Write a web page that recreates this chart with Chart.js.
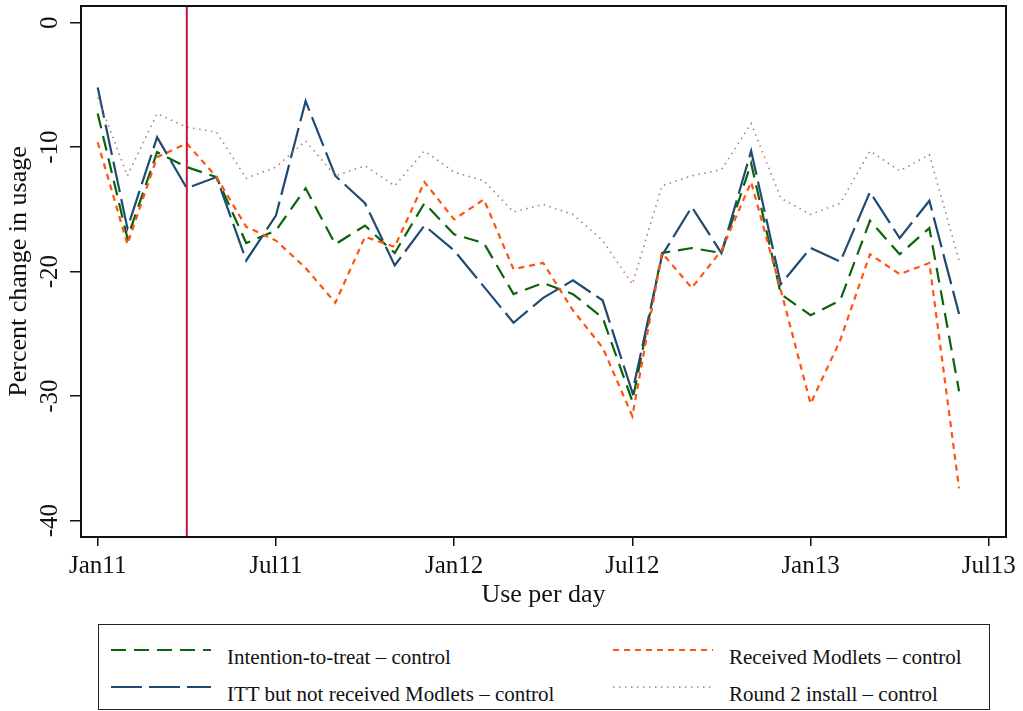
<!DOCTYPE html>
<html>
<head>
<meta charset="utf-8">
<script src="https://cdn.jsdelivr.net/npm/chart.js@4.4.0/dist/chart.umd.min.js"></script>
<style>
  body { margin: 0; background: #fff; width: 1023px; height: 711px; overflow: hidden; position: relative; font-family: "Liberation Serif", serif; }
  #wrap { position: absolute; left: 0; top: 0; width: 1023px; height: 615px; }
  #legend { position: absolute; left: 98px; top: 624px; width: 892px; height: 86px; border: 1.5px solid #222; box-sizing: border-box; }
  .lg-text { position: absolute; font-size: 21px; line-height: 22px; white-space: nowrap; color: #111; }
  .lg-line { position: absolute; }
</style>
</head>
<body>
<div id="wrap"><canvas id="grafico"></canvas></div>
<div id="legend"></div>
<script>
// months since Jan 2011 (0 = Jan11 ... 29 = Jun13)
const meses = Array.from({ length: 30 }, (_, i) => i);
const tickMeses = [0, 6, 12, 18, 24, 30];
const tickLabels = ['Jan11', 'Jul11', 'Jan12', 'Jul12', 'Jan13', 'Jul13'];
const yTicks = [0, -10, -20, -30, -40];
const mesTratamento = 3;

const itt = [-7.3, -17.3, -10.4, -11.6, -12.4, -17.7, -16.7, -13.3, -17.8, -16.3,
  -18.5, -14.5, -17.0, -17.7, -21.8, -20.9, -21.8, -23.7, -30.4, -18.5,
  -18.1, -18.5, -11.3, -21.8, -23.5, -22.3, -15.9, -18.6, -16.5, -29.6];
const ittNaoRecebido = [-5.2, -16.5, -9.2, -13.3, -12.4, -19.1, -15.5, -6.3, -12.3, -14.5,
  -19.5, -16.3, -18.3, -21.2, -24.1, -22.1, -20.7, -22.3, -29.7, -18.7,
  -14.8, -18.5, -10.3, -21.0, -18.1, -19.2, -13.6, -17.3, -14.3, -23.4];
const recebido = [-9.6, -17.8, -10.8, -9.7, -12.4, -16.4, -17.5, -19.7, -22.5, -17.2,
  -18.0, -12.8, -15.8, -14.2, -19.8, -19.3, -23.1, -26.1, -31.6, -18.5,
  -21.3, -18.3, -12.8, -21.5, -30.6, -25.5, -18.6, -20.2, -19.3, -37.4];
const round2 = [-6.0, -12.3, -7.3, -8.4, -8.8, -12.5, -11.6, -9.5, -12.3, -11.5,
  -13.1, -10.3, -12.0, -12.7, -15.2, -14.6, -15.4, -17.5, -21.0, -13.1,
  -12.3, -11.8, -8.1, -14.1, -15.4, -14.5, -10.3, -11.9, -10.6, -19.1];

const series = [
  { label: 'Intention-to-treat \u2013 control', data: itt, color: '#0b630b', dash: [15, 8], width: 2.2, col: 0, row: 0 },
  { label: 'ITT but not received Modlets \u2013 control', data: ittNaoRecebido, color: '#1f4a73', dash: [31, 7], width: 2.2, col: 0, row: 1 },
  { label: 'Received Modlets \u2013 control', data: recebido, color: '#ff5310', dash: [6, 5], width: 2.2, col: 1, row: 0 },
  { label: 'Round 2 install \u2013 control', data: round2, color: '#b87882', dash: [1.5, 4.5], width: 1.6, col: 1, row: 1 }
];

// plot frame + treatment line
const moldura = {
  id: 'moldura',
  afterDatasetsDraw(chart) {
    const { ctx, chartArea: a, scales } = chart;
    const x = scales.x.getPixelForValue(mesTratamento);
    ctx.save();
    ctx.strokeStyle = '#c8143c';
    ctx.lineWidth = 2;
    ctx.beginPath();
    ctx.moveTo(x, a.top);
    ctx.lineTo(x, a.bottom);
    ctx.stroke();
    ctx.strokeStyle = '#111';
    ctx.lineWidth = 2;
    ctx.strokeRect(a.left, a.top, a.right - a.left, a.bottom - a.top);
    ctx.restore();
  }
};

const ctx = document.getElementById('grafico').getContext('2d');
new Chart(ctx, {
  type: 'line',
  data: {
    datasets: series.map((s, i) => ({
      label: s.label,
      data: s.data.map((v, k) => ({ x: meses[k], y: v })),
      borderColor: s.color,
      borderDash: s.dash,
      borderWidth: s.width,
      borderCapStyle: 'butt',
      pointRadius: 0,
      tension: 0,
      fill: false,
      order: series.length - i
    }))
  },
  options: {
    responsive: true,
    maintainAspectRatio: false,
    animation: false,
    layout: { padding: { top: 6, right: 17, left: 0, bottom: 0 } },
    plugins: { legend: { display: false }, tooltip: { enabled: false } },
    scales: {
      x: {
        type: 'linear',
        min: -0.562,
        max: 30.58,
        afterBuildTicks: s => { s.ticks = tickMeses.map(v => ({ value: v })); },
        afterFit: s => { s.height = 78; s.paddingLeft = 0; s.paddingRight = 0; },
        ticks: {
          autoSkip: false,
          maxRotation: 0,
          padding: 5,
          color: '#111',
          font: { family: 'Liberation Serif', size: 25 },
          callback: v => tickLabels[tickMeses.indexOf(v)]
        },
        grid: { drawOnChartArea: false, drawTicks: true, tickLength: 9, color: '#111', lineWidth: 1.5 },
        border: { display: false },
        title: {
          display: true,
          text: 'Use per day',
          color: '#111',
          font: { family: 'Liberation Serif', size: 26 },
          padding: { top: 0, bottom: 4 }
        }
      },
      y: {
        min: -41.31,
        max: 1.34,
        afterBuildTicks: s => { s.ticks = yTicks.map(v => ({ value: v })); },
        afterFit: s => { s.width = 81; s.paddingTop = 0; s.paddingBottom = 0; },
        ticks: {
          autoSkip: false,
          minRotation: 90,
          maxRotation: 90,
          crossAlign: 'center',
          padding: 3,
          color: '#111',
          font: { family: 'Liberation Serif', size: 25 }
        },
        grid: { drawOnChartArea: false, drawTicks: true, tickLength: 11, color: '#111', lineWidth: 1.5 },
        border: { display: false },
        title: {
          display: true,
          text: 'Percent change in usage',
          color: '#111',
          font: { family: 'Liberation Serif', size: 26 },
          padding: { top: 4, bottom: 0 }
        }
      }
    }
  },
  plugins: [moldura]
});

// legend drawn as HTML (two columns, Stata style)
const legenda = document.getElementById('legend');
const colLine = [110, 612], colText = [226, 728];
const rowLine = [649, 686], rowText = [645, 682];
series.forEach(s => {
  const svg = document.createElementNS('http://www.w3.org/2000/svg', 'svg');
  svg.setAttribute('class', 'lg-line');
  svg.setAttribute('width', '100');
  svg.setAttribute('height', '8');
  svg.style.left = (colLine[s.col] - 98) + 'px';
  svg.style.top = (rowLine[s.row] - 4 - 624) + 'px';
  const ln = document.createElementNS('http://www.w3.org/2000/svg', 'line');
  ln.setAttribute('x1', '0'); ln.setAttribute('x2', '100');
  ln.setAttribute('y1', '4'); ln.setAttribute('y2', '4');
  ln.setAttribute('stroke', s.color);
  ln.setAttribute('stroke-width', s.width);
  ln.setAttribute('stroke-dasharray', s.dash.join(' '));
  svg.appendChild(ln);
  legenda.appendChild(svg);
  const t = document.createElement('div');
  t.className = 'lg-text';
  t.textContent = s.label;
  t.style.left = (colText[s.col] - 98) + 'px';
  t.style.top = (rowText[s.row] - 624) + 'px';
  legenda.appendChild(t);
});
</script>
</body>
</html>
